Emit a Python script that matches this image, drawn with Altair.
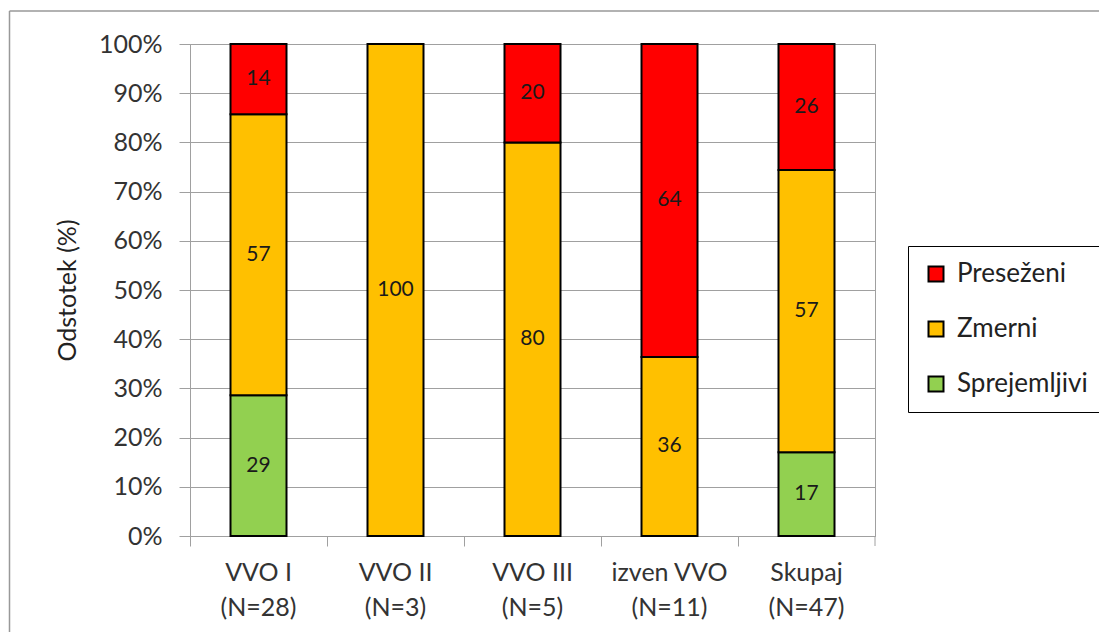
import altair as alt
import pandas as pd

categories = ["VVO I", "VVO II", "VVO III", "izven VVO", "Skupaj"]
n_counts = [28, 3, 5, 11, 47]
series = ["Sprejemljivi", "Zmerni", "Preseženi"]
sprejemljivi = [28.6, 0, 0, 0, 17.0]
zmerni = [57.1, 100, 80, 36.4, 57.4]
presezeni = [14.3, 0, 20, 63.6, 25.6]
colors = ["#92D050", "#FFC000", "#FF0000"]
y_ticks = [0, 10, 20, 30, 40, 50, 60, 70, 80, 90, 100]

labels = [f"{c}|(N={n})" for c, n in zip(categories, n_counts)]
rows = []
for i, lab in enumerate(labels):
    for k, (s, vals) in enumerate(zip(series, [sprejemljivi, zmerni, presezeni])):
        if vals[i] > 0:
            rows.append({"cat": lab, "series": s, "ord": k, "value": vals[i]})
df = pd.DataFrame(rows)

FONT = "Lato"
GRAY = "#a0a0a0"

base = alt.Chart(df)

bars = base.mark_bar(size=56, stroke="black", strokeWidth=2).encode(
    x=alt.X("cat:N", sort=labels, title=None,
            scale=alt.Scale(paddingInner=0, paddingOuter=0),
            axis=alt.Axis(bandPosition=0, labelAngle=0,
                          labelExpr="split(datum.label, '|')",
                          labelFontSize=25, labelLineHeight=35, labelPadding=14,
                          labelColor="#333333", labelFont=FONT,
                          tickSize=10, tickColor=GRAY, domainColor=GRAY, grid=False)),
    y=alt.Y("value:Q", stack="zero", title="Odstotek (%)",
            scale=alt.Scale(domain=[0, 100], nice=False),
            axis=alt.Axis(values=y_ticks, labelExpr="datum.value + '%'",
                          labelFontSize=25, labelColor="#333333", labelFont=FONT,
                          labelPadding=17, tickSize=11, tickColor=GRAY,
                          domainColor=GRAY, gridColor=GRAY, grid=True,
                          titleFontSize=25, titleFont=FONT, titleFontWeight="normal",
                          titleColor="#222222", titlePadding=18)),
    color=alt.Color("series:N",
                    scale=alt.Scale(domain=series, range=colors),
                    sort=["Preseženi", "Zmerni", "Sprejemljivi"],
                    legend=alt.Legend(title=None, orient="none", legendX=718, legendY=202,
                                      values=["Preseženi", "Zmerni", "Sprejemljivi"],
                                      labelFontSize=26, labelFont=FONT, labelColor="#222222",
                                      symbolType="square", symbolSize=225,
                                      symbolStrokeColor="black", symbolStrokeWidth=2,
                                      symbolOpacity=1, labelOffset=8,
                                      rowPadding=29, padding=15,
                                      strokeColor="black", fillColor="white")),
    order=alt.Order("ord:Q", sort="ascending"),
)

texts = base.transform_stack(
    stack="value", groupby=["cat"], as_=["v0", "v1"],
    sort=[alt.SortField("ord", order="ascending")]
).transform_calculate(
    mid="(datum.v0 + datum.v1) / 2"
).mark_text(fontSize=21, font=FONT, color="#1a1a1a", baseline="middle").encode(
    x=alt.X("cat:N", sort=labels),
    y=alt.Y("mid:Q"),
    text=alt.Text("value:Q", format=".0f"),
)

last_tick = alt.Chart(pd.DataFrame({"a": [0]})).mark_rule(color=GRAY, strokeWidth=1).encode(
    x=alt.value(685), y=alt.value(492), y2=alt.value(502))

frame_left = alt.Chart(pd.DataFrame({"a": [0]})).mark_rule(color="#999999", strokeWidth=1.5).encode(
    x=alt.value(-180.5), y=alt.value(-33), y2=alt.value(700))
frame_top = alt.Chart(pd.DataFrame({"a": [0]})).mark_rule(color="#999999", strokeWidth=1.5).encode(
    x=alt.value(-180.5), x2=alt.value(1000), y=alt.value(-33))

chart = alt.layer(bars, texts, last_tick, frame_left, frame_top).properties(
    width=685, height=492,
    autosize=alt.AutoSizeParams(type="none"),
    padding={"left": 182, "top": 36, "right": 224, "bottom": 96},
    background="white",
).configure_view(stroke=GRAY, strokeWidth=1)

chart.save("out.html", embed_options={"renderer": "svg", "actions": False})
